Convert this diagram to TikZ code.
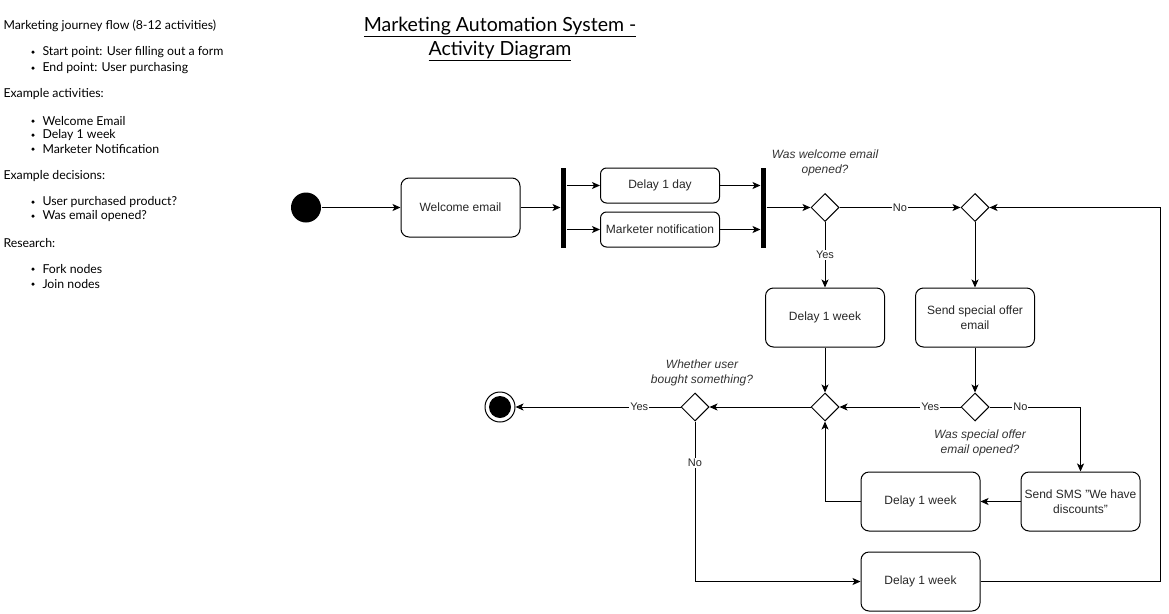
\documentclass[tikz,border=0pt]{standalone}
\usepackage{fontspec}
\setmainfont{Liberation Sans}
\newfontfamily\notefont{Lato}
\usetikzlibrary{arrows.meta,shapes.geometric}
\begin{document}
\begin{tikzpicture}[x=1pt,y=-1pt,line width=1pt,
  act/.style={draw, rounded corners=8pt, minimum width=119pt, minimum height=59pt, align=center, inner sep=0pt, font=\fontsize{12}{15}\selectfont, text=black!85},
  smallact/.style={act, minimum height=35pt, rounded corners=6pt},
  bar/.style={fill=black, minimum width=5pt, minimum height=80pt, inner sep=0pt},
  dec/.style={draw, diamond, minimum width=28pt, minimum height=28pt, inner sep=0pt},
  arr/.style={-{Stealth[length=8pt,width=7pt,inset=2pt]}},
  lbl/.style={fill=white, inner sep=1pt, font=\fontsize{11}{13}\selectfont, text=black!85},
  q/.style={font=\fontsize{12}{15}\selectfont\itshape, align=center, text=black!80},
  note/.style={anchor=west, inner sep=0pt, font=\notefont\fontsize{12.3}{14}\selectfont},
  dot/.style={circle, fill=black, inner sep=0pt, minimum size=3.5pt}]
\useasboundingbox (0,0) rectangle (1169,613);

% notes
\node[note] (n1) at (3,26) {Marketing journey flow (8-12 activities)};
\node[dot] (b1) at (33,52) {}; \node[note] (n2) at (42,52) {Start point: User filling out a form};
\node[dot] (b2) at (33,68) {}; \node[note] (n3) at (42,68) {End point: User purchasing};
\node[note] (n4) at (3,94) {Example activities:};
\node[dot] (b3) at (33,121) {}; \node[note] (n5) at (42,121) {Welcome Email};
\node[dot] (b4) at (33,135) {}; \node[note] (n6) at (42,135) {Delay 1 week};
\node[dot] (b5) at (33,149) {}; \node[note] (n7) at (42,149) {Marketer Notification};
\node[note] (n8) at (3,176) {Example decisions:};
\node[dot] (b6) at (33,202) {}; \node[note] (n9) at (42,202) {User purchased product?};
\node[dot] (b7) at (33,216) {}; \node[note] (n10) at (42,216) {Was email opened?};
\node[note] (n11) at (3,243) {Research:};
\node[dot] (b8) at (33,269) {}; \node[note] (n12) at (42,269) {Fork nodes};
\node[dot] (b9) at (33,284) {}; \node[note] (n13) at (42,284) {Join nodes};

% title
\node[font=\notefont\fontsize{19.5}{24}\selectfont, align=center] (title) at (500,39)
  {\underline{Marketing Automation System -}\\\underline{Activity Diagram}};

% nodes
\node[circle, fill=black, minimum size=30pt, inner sep=0pt] (start) at (306,207.5) {};
\node[act] (welcome) at (460.5,207.5) {Welcome email};
\node[bar] (fork) at (563.5,207.5) {};
\node[smallact] (d1day) at (660,185.5) {Delay 1 day};
\node[smallact] (mkt) at (660,229.5) {Marketer notification};
\node[bar] (join) at (763.5,207.5) {};
\node[dec] (dec1) at (825,207.5) {};
\node[dec] (dec2) at (975,207.5) {};
\node[act] (delayA) at (825,317.5) {Delay 1 week};
\node[act] (offer) at (975,317.5) {Send special offer\\email};
\node[dec] (merge) at (825,407) {};
\node[dec] (dec3) at (975,407) {};
\node[dec] (dec4) at (695,407) {};
\node[circle, draw, minimum size=30pt, inner sep=0pt] (endo) at (500,407) {};
\node[circle, fill=black, minimum size=22pt, inner sep=0pt] (endi) at (500,407) {};
\node[act] (sms) at (1080.5,501.5) {Send SMS "We have\\discounts"};
\node[act] (delayB) at (920.5,501.5) {Delay 1 week};
\node[act] (delayC) at (920.5,581.5) {Delay 1 week};
\coordinate (c1) at (1160,581.5);
\coordinate (c2) at (1160,207.5);

% questions
\node[q] (q1) at (825,162.5) {Was welcome email\\opened?};
\node[q] (q2) at (702,372.5) {Whether user\\bought something?};
\node[q] (q3) at (980,442.5) {Was special offer\\email opened?};

% edges
\draw[arr] (start) -- (welcome);
\draw[arr] (welcome) -- (fork);
\draw[arr] (fork.east |- d1day) -- (d1day);
\draw[arr] (fork.east |- mkt) -- (mkt);
\draw[arr] (d1day) -- (join.west |- d1day);
\draw[arr] (mkt) -- (join.west |- mkt);
\draw[arr] (join) -- (dec1);
\draw[arr] (dec1) -- node[lbl]{No} (dec2);
\draw[arr] (dec1) -- node[lbl]{Yes} (delayA);
\draw[arr] (dec2) -- (offer);
\draw[arr] (delayA) -- (merge);
\draw[arr] (offer) -- (dec3);
\draw[arr] (dec3) -- node[lbl,pos=0.25]{Yes} (merge);
\draw[arr] (dec3.east) -- node[lbl,pos=0.34]{No} (dec3.east -| sms) -- (sms);
\draw[arr] (sms) -- (delayB);
\draw[arr] (delayB.west) -| (merge.south);
\draw[arr] (merge) -- (dec4);
\draw[arr] (dec4) -- node[lbl,pos=0.25]{Yes} (endo);
\draw[arr] (dec4.south) |- node[lbl,pos=0.13]{No} (delayC.west);
\draw[arr] (delayC.east) -- (c1) -- (c2) -- (dec2.east);
\end{tikzpicture}
\end{document}
